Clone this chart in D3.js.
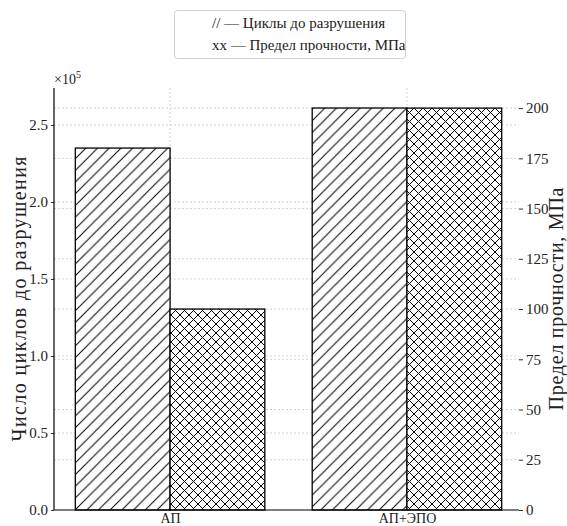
<!DOCTYPE html>
<html>
<head>
<meta charset="utf-8">
<script src="https://cdn.jsdelivr.net/npm/d3@7"></script>
<style>
  html, body { margin: 0; padding: 0; background: #fff; }
  svg { display: block; }
  svg text { font-family: "Liberation Serif", "DejaVu Serif", serif; fill: #222; }
</style>
</head>
<body>
<svg id="chart" width="567" height="526"></svg>
<script>
// ---- data ----
const categories = ["АП", "АП+ЭПО"];
const cycles = [235000, 261000];          // left axis (hatch //)
const strength = [100, 200];              // right axis (hatch xx), MPa
const leftTicks = [0, 0.5, 1.0, 1.5, 2.0, 2.5];   // ×10^5
const rightTicks = [0, 25, 50, 75, 100, 125, 150, 175, 200];
const legendLabels = ["// — Циклы до разрушения", "xx — Предел прочности, МПа"];
const yLabelLeft = "Число циклов до разрушения";
const yLabelRight = "Предел прочности, МПа";

// ---- layout ----
const svg = d3.select("#chart");
const L = 54, R = 519, T = 88, B = 510;
const FONT = "Liberation Serif";

const x = d3.scaleLinear().domain([-0.49, 1.473]).range([L, R]);
const yL = d3.scaleLinear().domain([0, 2.74e5]).range([B, T]);
const yR = d3.scaleLinear().domain([0, 210]).range([B, T]);
const barW = 0.4;

// patterns
const defs = svg.append("defs");
const s1 = 11.7;
const p1 = defs.append("pattern").attr("id", "diag").attr("patternUnits", "userSpaceOnUse")
  .attr("width", s1).attr("height", s1);
p1.append("rect").attr("width", s1).attr("height", s1).attr("fill", "#fff");
p1.append("path").attr("d", `M0,${s1} L${s1},0 M${-s1/2},${s1/2} L${s1/2},${-s1/2} M${s1/2},${s1*1.5} L${s1*1.5},${s1/2}`)
  .attr("stroke", "#000").attr("stroke-width", 1);
const s2 = 9;
const p2 = defs.append("pattern").attr("id", "cross").attr("patternUnits", "userSpaceOnUse")
  .attr("width", s2).attr("height", s2);
p2.append("rect").attr("width", s2).attr("height", s2).attr("fill", "#fff");
p2.append("path").attr("d",
  `M0,${s2} L${s2},0 M${-s2/2},${s2/2} L${s2/2},${-s2/2} M${s2/2},${s2*1.5} L${s2*1.5},${s2/2}` +
  ` M0,0 L${s2},${s2} M${-s2/2},${s2/2} L${s2/2},${s2*1.5} M${s2/2},${-s2/2} L${s2*1.5},${s2/2}`)
  .attr("stroke", "#000").attr("stroke-width", 1);

// grid
const grid = svg.append("g").attr("stroke", "#c8c8c8").attr("stroke-width", 0.8)
  .attr("stroke-dasharray", "2,2");
leftTicks.filter(d => d > 0).forEach(t => {
  grid.append("line").attr("x1", L).attr("x2", R).attr("y1", yL(t * 1e5)).attr("y2", yL(t * 1e5));
});
rightTicks.filter(d => d > 0).forEach(t => {
  grid.append("line").attr("x1", L).attr("x2", R).attr("y1", yR(t)).attr("y2", yR(t));
});
categories.forEach((c, i) => {
  grid.append("line").attr("x1", x(i)).attr("x2", x(i)).attr("y1", T).attr("y2", B);
});

// bars
const bars = svg.append("g");
categories.forEach((c, i) => {
  bars.append("rect")
    .attr("x", x(i - barW)).attr("width", x(i) - x(i - barW))
    .attr("y", yL(cycles[i])).attr("height", yL(0) - yL(cycles[i]))
    .attr("fill", "url(#diag)").attr("stroke", "#000").attr("stroke-width", 1.3);
  bars.append("rect")
    .attr("x", x(i)).attr("width", x(i + barW) - x(i))
    .attr("y", yR(strength[i])).attr("height", yR(0) - yR(strength[i]))
    .attr("fill", "url(#cross)").attr("stroke", "#000").attr("stroke-width", 1.3);
});

// axes
function styleAxis(g, fs) {
  g.attr("font-family", FONT);
  g.select(".domain").remove();
  g.selectAll("text").attr("font-size", fs).attr("font-family", FONT).attr("fill", "#222");
  g.selectAll("line").attr("stroke", "#333");
}
const axL = svg.append("g").attr("transform", `translate(${L},0)`)
  .call(d3.axisLeft(yL).tickValues(leftTicks.map(d => d * 1e5)).tickSize(3).tickPadding(3)
    .tickFormat((d, i) => leftTicks[i].toFixed(1)));
styleAxis(axL, 15);

const axR = svg.append("g").attr("transform", `translate(${R},0)`)
  .call(d3.axisRight(yR).tickValues(rightTicks).tickSize(4).tickPadding(3));
styleAxis(axR, 15);

const axX = svg.append("g").attr("transform", `translate(0,${B})`)
  .call(d3.axisBottom(x).tickValues([0, 1]).tickSize(0).tickPadding(3)
    .tickFormat((d, i) => categories[i]));
styleAxis(axX, 14);

// spines
svg.append("line").attr("x1", L).attr("x2", L).attr("y1", T).attr("y2", B).attr("stroke", "#000").attr("stroke-width", 1.2);
svg.append("line").attr("x1", L).attr("x2", R).attr("y1", B).attr("y2", B).attr("stroke", "#000").attr("stroke-width", 1.2);

// offset text
const off = svg.append("text").attr("x", L).attr("y", 84).attr("font-size", 14);
off.append("tspan").text("×10");
off.append("tspan").attr("dy", -6).attr("font-size", 10).text("5");

// axis titles
svg.append("text").attr("transform", `translate(26,${(T + B) / 2}) rotate(-90)`)
  .attr("text-anchor", "middle").attr("font-size", 20)
  .attr("textLength", 285).attr("lengthAdjust", "spacing").text(yLabelLeft);
svg.append("text").attr("transform", `translate(563,${(T + B) / 2}) rotate(-90)`)
  .attr("text-anchor", "middle").attr("font-size", 20)
  .attr("textLength", 223).attr("lengthAdjust", "spacing").text(yLabelRight);

// legend
const lg = svg.append("g");
lg.append("rect").attr("x", 174.5).attr("y", 10.5).attr("width", 231).attr("height", 48)
  .attr("rx", 3).attr("fill", "#fff").attr("stroke", "#d0d0d0");
legendLabels.forEach((t, i) => {
  lg.append("text").attr("x", 212).attr("y", 28 + i * 22).attr("font-size", 15).text(t);
});
</script>
</body>
</html>
